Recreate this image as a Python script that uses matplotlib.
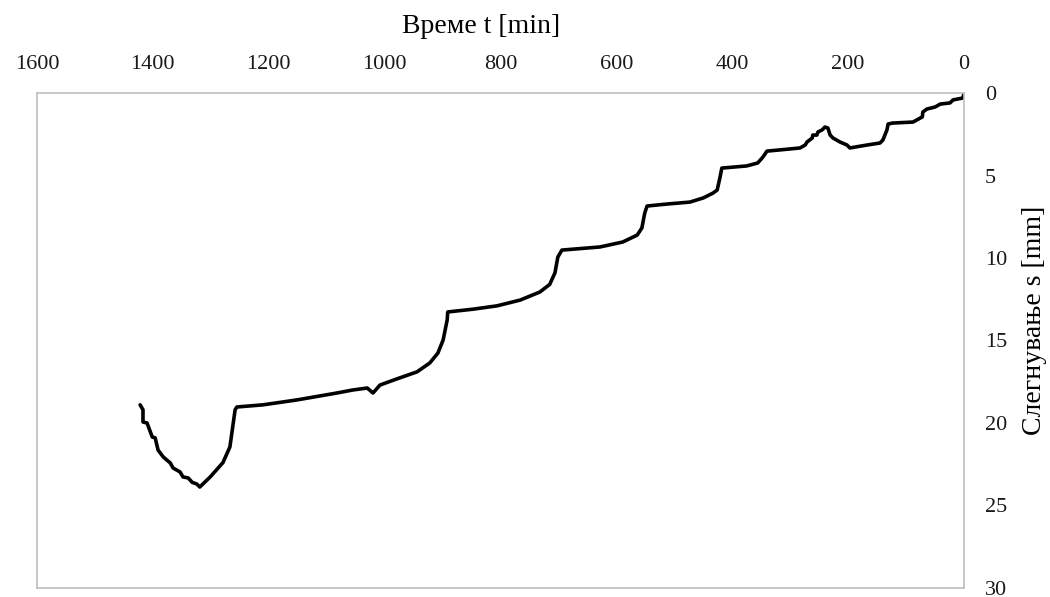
import matplotlib.pyplot as plt

# settlement readings (time in minutes, settlement in mm)
time_min = [0, 1.7, 19, 24, 41, 50, 64, 71, 72, 88, 123, 131, 133, 140, 145, 167,
            197, 202, 214, 226, 231, 235, 240, 245, 252, 254, 261, 262, 271, 274,
            283, 318, 340, 347, 356, 375, 418, 421, 426, 433, 450, 473, 513, 547,
            551, 556, 564, 589, 628, 694, 701, 706, 715, 732, 766, 806, 847, 891,
            892, 899, 908, 922, 944, 979, 1008, 1020, 1030, 1055, 1082, 1151, 1210,
            1255, 1258, 1262, 1267, 1279, 1301, 1319, 1324, 1332, 1339, 1348, 1353,
            1365, 1370, 1382, 1391, 1396, 1401, 1410, 1417, 1417, 1422]
settle_mm = [0, 0.3, 0.42, 0.6, 0.67, 0.85, 0.97, 1.15, 1.45, 1.76, 1.82, 1.88,
             2.24, 2.85, 3.03, 3.15, 3.33, 3.15, 2.97, 2.73, 2.55, 2.12, 2.06,
             2.24, 2.36, 2.55, 2.55, 2.73, 2.97, 3.15, 3.33, 3.45, 3.52, 3.88,
             4.24, 4.42, 4.55, 5.09, 5.88, 6.06, 6.36, 6.61, 6.73, 6.85, 7.27,
             8.18, 8.61, 9.03, 9.33, 9.52, 9.94, 10.9, 11.6, 12.06, 12.55, 12.9,
             13.1, 13.27, 13.76, 14.97, 15.76, 16.36, 16.9, 17.33, 17.7, 18.18,
             17.88, 18.0, 18.18, 18.6, 18.9, 19.03, 19.2, 20.2, 21.45, 22.4,
             23.27, 23.88, 23.7, 23.6, 23.33, 23.27, 22.97, 22.73, 22.42, 22.06,
             21.64, 20.9, 20.85, 20.0, 19.94, 19.2, 18.9]

x_ticks = [1600, 1400, 1200, 1000, 800, 600, 400, 200, 0]
y_ticks = [0, 5, 10, 15, 20, 25, 30]

plt.rcParams['font.family'] = ['Liberation Serif', 'DejaVu Serif']

fig = plt.figure(figsize=(10.5, 5.97), dpi=100)
ax = fig.add_axes([0.0352, 0.0151, 0.8829, 0.8291])

ax.plot(time_min, settle_mm, color='black', lw=2.6,
        solid_joinstyle='round', solid_capstyle='round')

ax.set_xlim(1600, 0)
ax.set_ylim(30, 0)
ax.set_xticks(x_ticks)
ax.set_yticks(y_ticks)

ax.xaxis.tick_top()
ax.xaxis.set_label_position('top')
ax.yaxis.tick_right()
ax.yaxis.set_label_position('right')
ax.tick_params(length=0, labelsize=16, colors='#1a1a1a')
ax.tick_params(axis='x', pad=14)
ax.tick_params(axis='y', pad=15)

ax.set_xlabel('Време t [min]', fontsize=20, va='center')
ax.xaxis.set_label_coords(0.479, 1.135)
ax.set_ylabel('Слегнување s [mm]', fontsize=20, va='center', ha='center')
ax.yaxis.set_label_coords(1.076, 0.54)

for sp in ax.spines.values():
    sp.set_color('#bfbfbf')
    sp.set_linewidth(1.2)

fig.savefig('out.png', dpi=100)
